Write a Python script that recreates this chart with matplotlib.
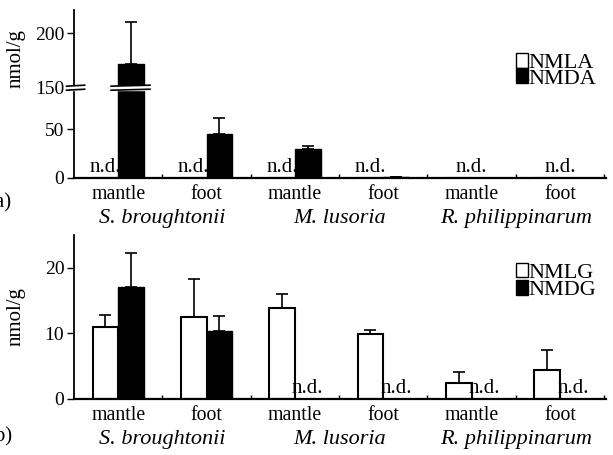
import numpy as np
import matplotlib.pyplot as plt
from matplotlib.patches import Patch

plt.rcParams['font.family'] = ['Liberation Serif', 'DejaVu Serif']

species = ['S. broughtonii', 'M. lusoria', 'R. philippinarum']
tissues = ['mantle', 'foot', 'mantle', 'foot', 'mantle', 'foot']

# panel a (nan = not detected)
nmla = [np.nan] * 6
nmda = [172, 45, 29.5, 1.5, np.nan, np.nan]
nmda_err = [38, 16, 3, 0, 0, 0]

# panel b
nmlg = [11.0, 12.5, 13.8, 9.9, 2.5, 4.4]
nmlg_err = [1.8, 5.8, 2.2, 0.6, 1.6, 3.0]
nmdg = [17.1, 10.3, np.nan, np.nan, np.nan, np.nan]
nmdg_err = [5.1, 2.4, 0, 0, 0, 0]

LOW, HIGH, K = 92.0, 150.0, 1.12


def fwd(v):
    v = np.asarray(v, dtype=float)
    return np.where(v <= LOW, v,
                    np.where(v < HIGH, LOW + (v - LOW) * 0.001,
                             LOW + (HIGH - LOW) * 0.001 + (v - HIGH) * K))


def inv(y):
    y = np.asarray(y, dtype=float)
    top = LOW + (HIGH - LOW) * 0.001
    return np.where(y <= LOW, y,
                    np.where(y < top, LOW + (y - LOW) / 0.001,
                             HIGH + (y - top) / K))


fig = plt.figure(figsize=(6.13, 4.55), dpi=100)
ax1 = fig.add_axes([0.1207, 0.6088, 0.8679, 0.3692])
ax2 = fig.add_axes([0.1207, 0.1231, 0.8679, 0.3604])

x = np.arange(6)
w = 0.29
cap = 4


def style(ax):
    for s in ['top', 'right']:
        ax.spines[s].set_visible(False)
    ax.spines['left'].set_linewidth(1.3)
    ax.spines['bottom'].set_linewidth(1.6)
    ax.set_xlim(-0.5, 5.52)
    ax.set_xticks(x)
    ax.set_xticklabels(tissues, fontsize=14.3)
    ax.tick_params(axis='x', length=0, pad=5)
    ax.set_xticks(np.arange(0.5, 6, 1), minor=True)
    ax.tick_params(axis='x', which='minor', direction='in', length=3, width=1)
    ax.tick_params(axis='y', labelsize=14, length=5, width=1, pad=2)
    for i, sp in enumerate(species):
        ax.annotate(sp, xy=(2 * i + 0.5, 0), xycoords=('data', 'axes fraction'),
                    xytext=(0, -29), textcoords='offset points',
                    ha='center', va='center', style='italic', fontsize=16)
    ax.set_ylabel('nmol/g', fontsize=15)


def nd(ax, xi):
    ax.annotate('n.d.', xy=(xi, 0), xycoords=('data', 'data'),
                xytext=(0, 1), textcoords='offset points',
                ha='center', va='bottom', fontsize=15)


# ---- panel a
ax1.set_yscale('function', functions=(fwd, inv))
ax1.bar(x - w / 2, np.nan_to_num(nmla), w, color='white', edgecolor='black', lw=1.5)
ax1.bar(x + w / 2, np.nan_to_num(nmda), w, color='black', edgecolor='black', lw=1)
ax1.errorbar(x + w / 2, np.nan_to_num(nmda), yerr=[np.zeros(6), nmda_err],
             fmt='none', ecolor='black', elinewidth=1.2, capsize=cap, capthick=1.2)
ax1.set_ylim(0, 221)
ax1.set_yticks([0, 50, 150, 200])
ax1.set_yticks([], minor=True)
style(ax1)
ax1.yaxis.set_label_coords(-0.092, 0.71)
for i in range(4):
    nd(ax1, x[i] - w / 2)
for i in range(4, 6):
    nd(ax1, x[i])

# break marks
yb = float(fwd(150) / fwd(221))
tr = ax1.get_xaxis_transform()
tr_ax = ax1.transAxes
for xs, trans in [((-0.014, 0.02), tr_ax), ((x[0] - 0.08, x[0] + w + 0.07), tr)]:
    ax1.fill_between(xs, [yb - 0.012] * 2, [yb + 0.012] * 2, color='white',
                     transform=trans, zorder=5, clip_on=False)
    ax1.plot(xs, [yb - 0.014, yb - 0.008], color='black', lw=1.2,
             transform=trans, zorder=6, clip_on=False)
    ax1.plot(xs, [yb + 0.010, yb + 0.016], color='black', lw=1.2,
             transform=trans, zorder=6, clip_on=False)

ax1.legend(handles=[Patch(facecolor='white', edgecolor='black', lw=1),
                    Patch(facecolor='black', edgecolor='black')],
           labels=['NMLA', 'NMDA'], loc='upper left', bbox_to_anchor=(0.81, 0.81),
           frameon=False, fontsize=16, handlelength=0.55, handleheight=0.65,
           handletextpad=0.0, labelspacing=-0.22, borderpad=0)

# ---- panel b
ax2.bar(x - w / 2, np.nan_to_num(nmlg), w, color='white', edgecolor='black', lw=1.5)
ax2.bar(x + w / 2, np.nan_to_num(nmdg), w, color='black', edgecolor='black', lw=1)
ax2.errorbar(x - w / 2, nmlg, yerr=[np.zeros(6), nmlg_err],
             fmt='none', ecolor='black', elinewidth=1.2, capsize=cap, capthick=1.2)
ax2.errorbar(x + w / 2, np.nan_to_num(nmdg), yerr=[np.zeros(6), nmdg_err],
             fmt='none', ecolor='black', elinewidth=1.2, capsize=cap, capthick=1.2)
ax2.set_ylim(0, 25)
ax2.set_yticks([0, 10, 20])
style(ax2)
ax2.yaxis.set_label_coords(-0.092, 0.5)
for i in range(2, 6):
    nd(ax2, x[i] + w / 2)

ax2.legend(handles=[Patch(facecolor='white', edgecolor='black', lw=1),
                    Patch(facecolor='black', edgecolor='black')],
           labels=['NMLG', 'NMDG'], loc='upper left', bbox_to_anchor=(0.81, 0.90),
           frameon=False, fontsize=16, handlelength=0.55, handleheight=0.65,
           handletextpad=0.0, labelspacing=-0.12, borderpad=0)

# panel letters (cut at the left edge as in the source)
fig.text(-0.02, 1 - 203 / 455, '(a)', fontsize=15, va='center', ha='left')
fig.text(-0.02, 1 - 437 / 455, '(b)', fontsize=15, va='center', ha='left')

fig.savefig('out.png', dpi=100)
